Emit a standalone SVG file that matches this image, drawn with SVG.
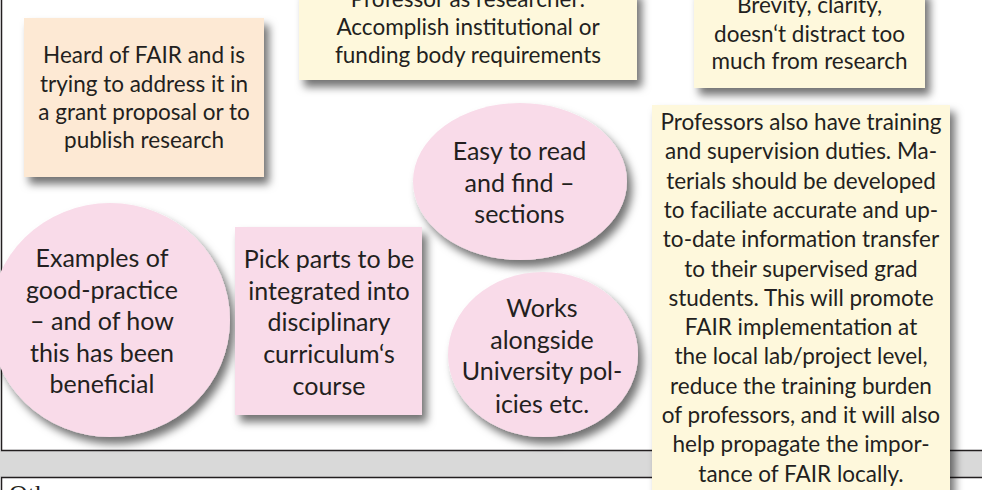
<svg xmlns="http://www.w3.org/2000/svg" width="982" height="490" viewBox="0 0 982 490">
<defs>
<filter id="sh" x="-20%" y="-20%" width="150%" height="150%">
<feDropShadow dx="5" dy="7" stdDeviation="4" flood-color="#000" flood-opacity="0.55"/>
</filter>
</defs>
<style>
.t{font-family:Lato,"Liberation Sans",sans-serif;fill:#231f20;text-anchor:middle}
.s{font-size:22.5px}
.b{font-size:25px}
.peach{fill:#fde9d4}
.yel{fill:#fef8dc}
.pink{fill:#f9dbe9}
.frame{fill:none;stroke:#231f20;stroke-width:1.5}
</style>
<rect x="0" y="0" width="982" height="490" fill="#fff"/>
<g id="frame">
<rect x="0" y="451" width="982" height="26" fill="#d9d9d9"/>
<path class="frame" d="M1.5 0V450.5H982M1.5 490V477.5H982"/>
<text x="9" y="503" style="font-family:'Liberation Serif',serif;font-size:26px;fill:#231f20">Other</text>
</g>
<g id="connectors"/>
<g id="n-heard">
<rect class="peach" x="24" y="18" width="240" height="159" filter="url(#sh)"/>
<text class="t s"><tspan x="144" y="63">Heard of FAIR and is</tspan><tspan x="144" y="91.5">trying to address it in</tspan><tspan x="144" y="120">a grant proposal or to</tspan><tspan x="144" y="148">publish research</tspan></text>
</g>
<g id="n-professor">
<rect class="yel" x="299" y="-10" width="338" height="90" filter="url(#sh)"/>
<text class="t s"><tspan x="468" y="7">Professor as researcher:</tspan><tspan x="468" y="35">Accomplish institutional or</tspan><tspan x="468" y="63">funding body requirements</tspan></text>
</g>
<g id="n-brevity">
<rect class="yel" x="694" y="-10" width="231" height="98" filter="url(#sh)"/>
<text class="t s"><tspan x="809.5" y="13">Brevity, clarity,</tspan><tspan x="809.5" y="41.5">doesn‘t distract too</tspan><tspan x="809.5" y="69">much from research</tspan></text>
</g>
<g id="n-easy">
<ellipse class="pink" cx="520" cy="181.5" rx="107" ry="78.5" filter="url(#sh)"/>
<text class="t b"><tspan x="519.5" y="160">Easy to read</tspan><tspan x="519.5" y="192">and find –</tspan><tspan x="519.5" y="223">sections</tspan></text>
</g>
<g id="n-examples">
<ellipse class="pink" cx="110" cy="320" rx="120" ry="117" filter="url(#sh)"/>
<text class="t b"><tspan x="102" y="267">Examples of</tspan><tspan x="102" y="298.5">good-practice</tspan><tspan x="102" y="330">– and of how</tspan><tspan x="102" y="361.5">this has been</tspan><tspan x="102" y="393">beneficial</tspan></text>
</g>
<g id="n-pick">
<rect class="pink" x="235" y="227" width="187" height="188" filter="url(#sh)"/>
<text class="t b"><tspan x="329" y="268">Pick parts to be</tspan><tspan x="329" y="300">integrated into</tspan><tspan x="329" y="331">disciplinary</tspan><tspan x="329" y="363">curriculum‘s</tspan><tspan x="329" y="395">course</tspan></text>
</g>
<g id="n-works">
<ellipse class="pink" cx="543" cy="354.5" rx="95" ry="82.5" filter="url(#sh)"/>
<text class="t b"><tspan x="542" y="317">Works</tspan><tspan x="542" y="348.5">alongside</tspan><tspan x="542" y="380">University pol-</tspan><tspan x="542" y="412.5">icies etc.</tspan></text>
</g>
<g id="n-training">
<rect class="yel" x="652" y="105" width="298" height="400" filter="url(#sh)"/>
<text class="t s"><tspan x="801" y="130">Professors also have training</tspan><tspan x="801" y="159.3">and supervision duties. Ma-</tspan><tspan x="801" y="188.6">terials should be developed</tspan><tspan x="801" y="217.9">to faciliate accurate and up-</tspan><tspan x="801" y="247.2">to-date information transfer</tspan><tspan x="801" y="276.5">to their supervised grad</tspan><tspan x="801" y="305.8">students. This will promote</tspan><tspan x="801" y="335.1">FAIR implementation at</tspan><tspan x="801" y="364.4">the local lab/project level,</tspan><tspan x="801" y="393.7">reduce the training burden</tspan><tspan x="801" y="423">of professors, and it will also</tspan><tspan x="801" y="452.3">help propagate the impor-</tspan><tspan x="801" y="481.6">tance of FAIR locally.</tspan></text>
</g>
</svg>
